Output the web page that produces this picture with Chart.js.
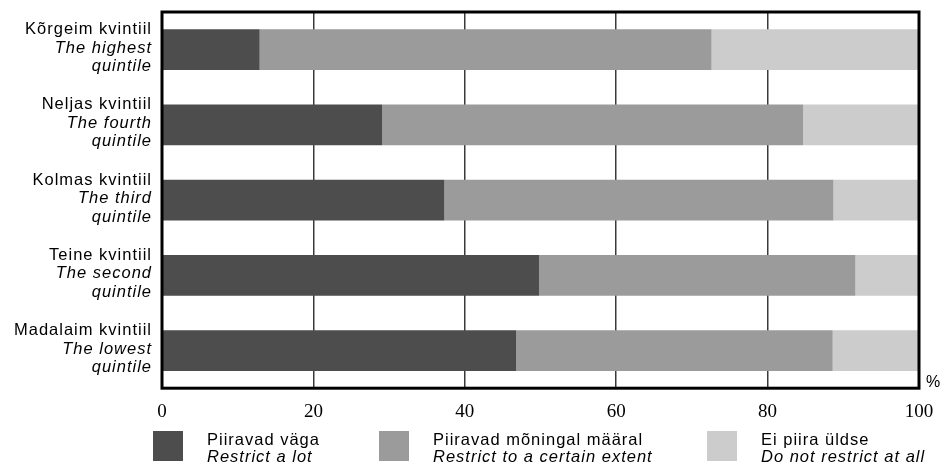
<!DOCTYPE html>
<html>
<head>
<meta charset="utf-8">
<script src="https://cdn.jsdelivr.net/npm/chart.js@4/dist/chart.umd.min.js"></script>
<style>
  html, body { margin: 0; padding: 0; background: #fff; }
  #wrap { width: 942px; height: 467px; }
</style>
</head>
<body>
<div id="wrap"><canvas id="chart" width="942" height="467"></canvas></div>
<script>
// kategooriad (eesti + inglise)
const labelsEt = ['Kõrgeim kvintiil', 'Neljas kvintiil', 'Kolmas kvintiil', 'Teine kvintiil', 'Madalaim kvintiil'];
const labelsEn = [['The highest', 'quintile'], ['The fourth', 'quintile'], ['The third', 'quintile'], ['The second', 'quintile'], ['The lowest', 'quintile']];

// seeriad, %
const piiravadVaga = [12.9, 29.1, 37.3, 49.8, 46.8];
const piiravadMoningal = [59.7, 55.6, 51.4, 41.8, 41.8];
const eiPiira = [27.4, 15.3, 11.3, 8.4, 11.4];

const seriesEt = ['Piiravad väga', 'Piiravad mõningal määral', 'Ei piira üldse'];
const seriesEn = ['Restrict a lot', 'Restrict to a certain extent', 'Do not restrict at all'];
const xTicks = [0, 20, 40, 60, 80, 100];

const SANS = '"Liberation Sans", Arial, sans-serif';
const SERIF = '"Liberation Serif", "Times New Roman", serif';

// kahekeelsed y-sildid + raam + legend + %
const extras = {
    id: 'extras',
    afterDatasetsDraw(chart) {
        const ctx = chart.ctx;
        const a = chart.chartArea;
        const y = chart.scales.y;

        // raam
        ctx.save();
        ctx.strokeStyle = '#000';
        ctx.lineWidth = 3;
        ctx.strokeRect(a.left, a.top, a.right - a.left, a.bottom - a.top);
        ctx.restore();

        // y-sildid
        ctx.save();
        ctx.fillStyle = '#000';
        ctx.textAlign = 'right';
        ctx.textBaseline = 'alphabetic';
        ctx.letterSpacing = '1px';
        const lx = a.left - 10;
        labelsEt.forEach((lab, i) => {
            const cy = y.getPixelForValue(i);
            ctx.font = '16.5px ' + SANS;
            ctx.fillText(lab, lx, cy - 15.5);
            ctx.font = 'italic 16.5px ' + SANS;
            ctx.fillText(labelsEn[i][0], lx, cy + 3);
            ctx.fillText(labelsEn[i][1], lx, cy + 21.5);
        });
        ctx.restore();

        // %
        ctx.save();
        ctx.fillStyle = '#000';
        ctx.font = '16px ' + SANS;
        ctx.textAlign = 'left';
        ctx.fillText('%', a.right + 7, a.bottom - 1);
        ctx.restore();

        // legend
        const legX = [153, 379, 707];
        const boxTop = 431;
        ctx.save();
        ctx.letterSpacing = '1px';
        chart.data.datasets.forEach((ds, i) => {
            ctx.fillStyle = ds.backgroundColor;
            ctx.fillRect(legX[i], boxTop, 30, 30);
            ctx.fillStyle = '#000';
            ctx.textAlign = 'left';
            ctx.font = '16.5px ' + SANS;
            ctx.fillText(seriesEt[i], legX[i] + 54, boxTop + 14);
            ctx.font = 'italic 16.5px ' + SANS;
            ctx.fillText(seriesEn[i], legX[i] + 54, boxTop + 31);
        });
        ctx.restore();
    }
};

const colors = ['#4d4d4d', '#9b9b9b', '#cccccc'];

new Chart(document.getElementById('chart'), {
    type: 'bar',
    data: {
        labels: labelsEt,
        datasets: [piiravadVaga, piiravadMoningal, eiPiira].map((d, i) => ({
            label: seriesEt[i],
            data: d,
            backgroundColor: colors[i],
            borderWidth: 0,
            categoryPercentage: 1,
            barPercentage: 0.543
        }))
    },
    options: {
        indexAxis: 'y',
        responsive: false,
        animation: false,
        layout: { padding: { left: 162, right: 23, top: 12, bottom: 32 } },
        plugins: {
            legend: { display: false },
            tooltip: { enabled: false }
        },
        scales: {
            x: {
                stacked: true,
                min: 0,
                max: 100,
                afterBuildTicks(scale) {
                    scale.ticks = xTicks.map(v => ({ value: v }));
                },
                afterFit(scale) {
                    // ära lase "100" sildil joonisala kitsamaks teha
                    scale.paddingRight = 0;
                    scale.paddingLeft = 0;
                },
                grid: { color: '#3a3a3a', lineWidth: 1.5, drawTicks: false },
                border: { display: false },
                ticks: {
                    padding: 12,
                    color: '#000',
                    font: { family: SERIF, size: 19 },
                    maxRotation: 0
                }
            },
            y: {
                stacked: true,
                display: false
            }
        }
    },
    plugins: [extras]
});
</script>
</body>
</html>
